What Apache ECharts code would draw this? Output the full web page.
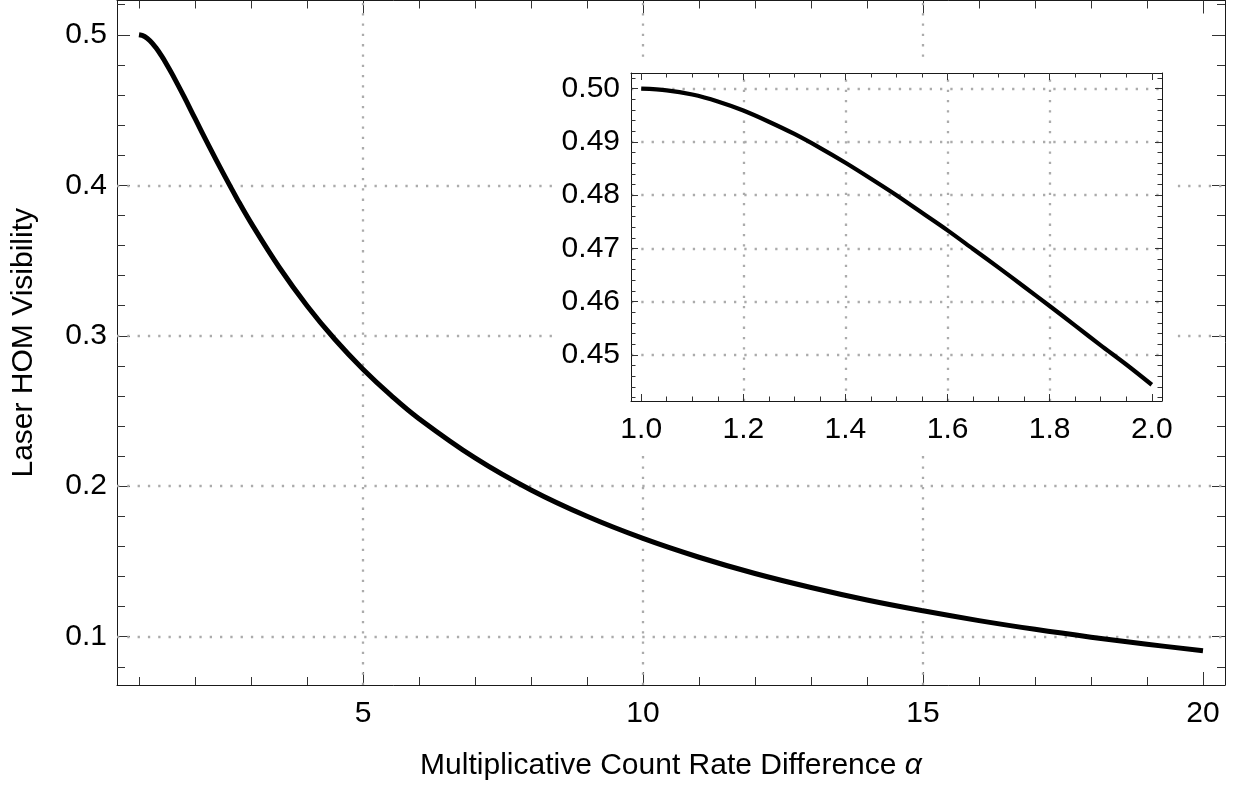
<!DOCTYPE html>
<html><head><meta charset="utf-8">
<script src="https://cdn.jsdelivr.net/npm/echarts@6/dist/echarts.min.js"></script>
<style>html,body{margin:0;padding:0;background:#fff}#c{width:1238px;height:799px}</style>
</head><body><div id="c"></div>
<script>
// ---- data ----
const MAIN_ALPHA = [1, 1.1, 1.2, 1.3, 1.4, 1.5, 1.6, 1.8, 2, 2.25, 2.5, 2.75, 3, 3.5, 4, 4.5, 5, 5.5, 6, 7, 8, 9, 10, 11, 12, 13, 14, 15, 16, 17, 18, 19, 20];
const MAIN_VIS   = [0.500, 0.4989, 0.4959, 0.4915, 0.4861, 0.4800, 0.4734, 0.4592, 0.4444, 0.4260, 0.4082, 0.3911, 0.3750, 0.3457, 0.3200, 0.2975, 0.2778, 0.2604, 0.2449, 0.2188, 0.1975, 0.1800, 0.1653, 0.1528, 0.1420, 0.1327, 0.1244, 0.1172, 0.1107, 0.1049, 0.0997, 0.0950, 0.0907];
const INSET_ALPHA = [1.0, 1.05, 1.1, 1.15, 1.2, 1.25, 1.3, 1.35, 1.4, 1.45, 1.5, 1.55, 1.6, 1.65, 1.7, 1.75, 1.8, 1.85, 1.9, 1.95, 2.0];
const INSET_VIS   = [0.5000, 0.4997, 0.4989, 0.4976, 0.4959, 0.4938, 0.4915, 0.4889, 0.4861, 0.4831, 0.4800, 0.4767, 0.4734, 0.4699, 0.4664, 0.4628, 0.4592, 0.4555, 0.4518, 0.4482, 0.4444];

// tick values / labels
const MAIN_X_MAJOR = [5, 10, 15, 20];
const MAIN_X_LABELS = ['5', '10', '15', '20'];
const MAIN_X_MINOR = [1, 2, 3, 4, 6, 7, 8, 9, 11, 12, 13, 14, 16, 17, 18, 19];
const MAIN_Y_MAJOR = [0.1, 0.2, 0.3, 0.4, 0.5];
const MAIN_Y_LABELS = ['0.1', '0.2', '0.3', '0.4', '0.5'];
const MAIN_Y_MINOR = [0.08, 0.12, 0.14, 0.16, 0.18, 0.22, 0.24, 0.26, 0.28, 0.32, 0.34, 0.36, 0.38, 0.42, 0.44, 0.46, 0.48, 0.52];
const MAIN_GRID_X = [5, 10, 15];
const MAIN_GRID_Y = [0.1, 0.2, 0.3, 0.4];

const INSET_X_MAJOR = [1.0, 1.2, 1.4, 1.6, 1.8, 2.0];
const INSET_X_LABELS = ['1.0', '1.2', '1.4', '1.6', '1.8', '2.0'];
const INSET_X_MINOR = [1.05, 1.1, 1.15, 1.25, 1.3, 1.35, 1.45, 1.5, 1.55, 1.65, 1.7, 1.75, 1.85, 1.9, 1.95];
const INSET_Y_MAJOR = [0.45, 0.46, 0.47, 0.48, 0.49, 0.50];
const INSET_Y_LABELS = ['0.45', '0.46', '0.47', '0.48', '0.49', '0.50'];
const INSET_Y_MINOR = [0.442, 0.444, 0.446, 0.448, 0.452, 0.454, 0.456, 0.458, 0.462, 0.464, 0.466, 0.468, 0.472, 0.474, 0.476, 0.478, 0.482, 0.484, 0.486, 0.488, 0.492, 0.494, 0.496, 0.498, 0.502];
const INSET_GRID_X = [1.2, 1.4, 1.6, 1.8];
const INSET_GRID_Y = [0.45, 0.46, 0.47, 0.48, 0.49, 0.50];

// axis ranges
const MAIN_X_RANGE = [0.607, 20.393];
const MAIN_Y_RANGE = [0.0679, 0.5228];
const INSET_X_RANGE = [0.98, 2.02];
const INSET_Y_RANGE = [0.44135, 0.50295];

// ---- layout ----
const FONT = '"Liberation Sans", Arial, sans-serif';
const MAIN = {left: 117, top: 0.5, width: 1108, height: 684.5};
const INSET = {left: 631, top: 73, width: 531, height: 328};

function lookup(ticks, labels, v) {
  for (let i = 0; i < ticks.length; i++) if (Math.abs(ticks[i] - v) < 1e-9) return labels[i];
  return '';
}
function mkAxis(o) {
  return {
    type: 'value', gridIndex: o.grid, position: o.pos, min: o.range[0], max: o.range[1], z: o.z || 0,
    axisLine: {show: !!o.line, onZero: false, lineStyle: {color: '#1a1a1a', width: 1}},
    axisTick: {show: true, inside: true, length: o.len, customValues: o.ticks, lineStyle: {color: '#333', width: 1}},
    axisLabel: o.labels ? {show: true, customValues: o.ticks, formatter: v => lookup(o.ticks, o.labels, v),
      fontSize: 30, fontFamily: FONT, color: '#000', margin: o.margin} : {show: false},
    splitLine: {show: false}, minorTick: {show: false}, minorSplitLine: {show: false},
    name: o.name || '', nameLocation: 'middle', nameGap: o.nameGap || 0,
    nameTextStyle: {fontSize: 30, fontFamily: FONT, color: '#000', rich: {a: {fontSize: 30, fontFamily: FONT, fontStyle: 'italic', color: '#000'}}}
  };
}

const xAxes = [
  mkAxis({grid: 0, pos: 'bottom', range: MAIN_X_RANGE, line: true, len: 13, ticks: MAIN_X_MAJOR, labels: MAIN_X_LABELS, margin: 14,
          name: 'Multiplicative Count Rate Difference {a|α}', nameGap: 66}),
  mkAxis({grid: 0, pos: 'bottom', range: MAIN_X_RANGE, len: 8, ticks: MAIN_X_MINOR}),
  mkAxis({grid: 0, pos: 'top', range: MAIN_X_RANGE, line: true, len: 13, ticks: MAIN_X_MAJOR}),
  mkAxis({grid: 0, pos: 'top', range: MAIN_X_RANGE, len: 8, ticks: MAIN_X_MINOR}),
  mkAxis({grid: 1, pos: 'bottom', range: INSET_X_RANGE, line: true, len: 7, ticks: INSET_X_MAJOR, labels: INSET_X_LABELS, margin: 14, z: 5}),
  mkAxis({grid: 1, pos: 'bottom', range: INSET_X_RANGE, len: 4.5, ticks: INSET_X_MINOR, z: 5}),
  mkAxis({grid: 1, pos: 'top', range: INSET_X_RANGE, line: true, len: 7, ticks: INSET_X_MAJOR, z: 5}),
  mkAxis({grid: 1, pos: 'top', range: INSET_X_RANGE, len: 4.5, ticks: INSET_X_MINOR, z: 5})
];
const yAxes = [
  mkAxis({grid: 0, pos: 'left', range: MAIN_Y_RANGE, line: true, len: 13, ticks: MAIN_Y_MAJOR, labels: MAIN_Y_LABELS, margin: 10,
          name: 'Laser HOM Visibility', nameGap: 78}),
  mkAxis({grid: 0, pos: 'left', range: MAIN_Y_RANGE, len: 8, ticks: MAIN_Y_MINOR}),
  mkAxis({grid: 0, pos: 'right', range: MAIN_Y_RANGE, line: true, len: 13, ticks: MAIN_Y_MAJOR}),
  mkAxis({grid: 0, pos: 'right', range: MAIN_Y_RANGE, len: 8, ticks: MAIN_Y_MINOR}),
  mkAxis({grid: 1, pos: 'left', range: INSET_Y_RANGE, line: true, len: 7, ticks: INSET_Y_MAJOR, labels: INSET_Y_LABELS, margin: 11, z: 5}),
  mkAxis({grid: 1, pos: 'left', range: INSET_Y_RANGE, len: 4.5, ticks: INSET_Y_MINOR, z: 5}),
  mkAxis({grid: 1, pos: 'right', range: INSET_Y_RANGE, line: true, len: 7, ticks: INSET_Y_MAJOR, z: 5}),
  mkAxis({grid: 1, pos: 'right', range: INSET_Y_RANGE, len: 4.5, ticks: INSET_Y_MINOR, z: 5})
];

const gridLineStyle = {color: '#ababab', width: 2.3, type: [2.3, 8]};
function gridMarks(xs, ys, z) {
  return {
    silent: true, symbol: ['none', 'none'], label: {show: false}, emphasis: {disabled: true},
    animation: false, z: z, lineStyle: gridLineStyle,
    data: xs.map(v => ({xAxis: v})).concat(ys.map(v => ({yAxis: v})))
  };
}

const chart = echarts.init(document.getElementById('c'), null, {renderer: 'canvas'});
chart.setOption({
  animation: false,
  backgroundColor: '#fff',
  grid: [
    Object.assign({containLabel: false, outerBoundsMode: 'none', show: false}, MAIN),
    Object.assign({containLabel: false, outerBoundsMode: 'none', show: false}, INSET)
  ],
  xAxis: xAxes,
  yAxis: yAxes,
  graphic: {
    z: 3,
    elements: [{
      type: 'rect', z: 3, silent: true,
      shape: {x: INSET.left - 76, y: INSET.top - 9, width: INSET.width + 76 + 15, height: INSET.height + 9 + 52},
      style: {fill: '#fff'}
    }]
  },
  series: [
    {
      type: 'line', xAxisIndex: 0, yAxisIndex: 0, z: 2,
      data: MAIN_ALPHA.map((a, i) => [a, MAIN_VIS[i]]),
      showSymbol: false, smooth: 0.4,
      lineStyle: {color: '#000', width: 5, cap: 'butt', join: 'round'},
      markLine: gridMarks(MAIN_GRID_X, MAIN_GRID_Y, 1)
    },
    {
      type: 'line', xAxisIndex: 4, yAxisIndex: 4, z: 7,
      data: INSET_ALPHA.map((a, i) => [a, INSET_VIS[i]]),
      showSymbol: false, smooth: 0.3,
      lineStyle: {color: '#000', width: 4.2, cap: 'butt', join: 'round'},
      markLine: gridMarks(INSET_GRID_X, INSET_GRID_Y, 4)
    }
  ]
});
</script>
</body></html>
